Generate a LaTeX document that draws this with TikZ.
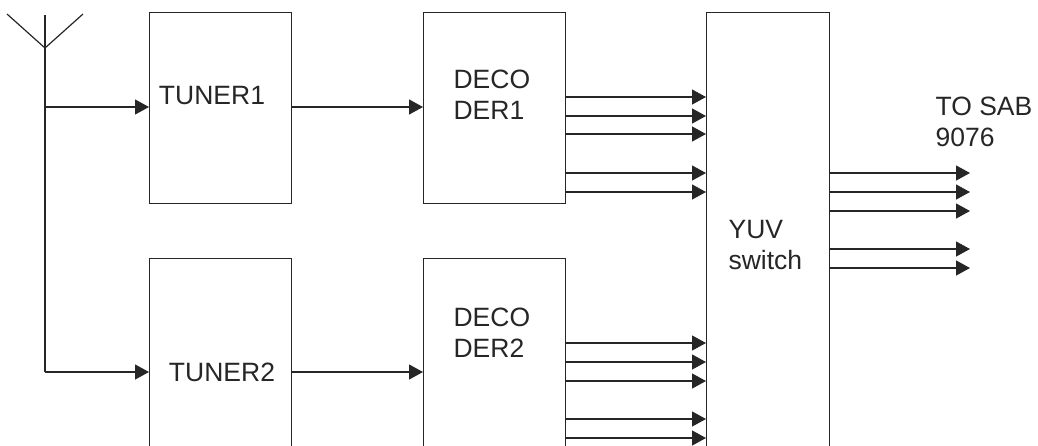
\documentclass[tikz,border=0pt]{standalone}
\usepackage{fontspec}
\setmainfont{Liberation Sans}
\usetikzlibrary{arrows.meta, positioning}

\begin{document}
\begin{tikzpicture}[x=1pt, y=-1pt,
		>={Triangle[length=14pt,width=15pt]},   %filled arrow tips
		line width=1.2pt, color=black!85,
		font=\fontsize{26.5}{31}\selectfont,
		blk/.style={draw, rectangle, anchor=north west, minimum width=#1, inner sep=0pt}]
	\useasboundingbox (0,0) rectangle (1038,445);
	\clip (0,0) rectangle (1038,445);
	% Antenne
	\coordinate (ant) at (45,48);
	\draw (7,14) -- (ant) -- (83,14);
	\draw (45,15) -- (ant) -- (45,372);
	% Bloecke
	\node[blk=142pt, minimum height=191pt] (tuner1) at (149,12) {};
	\node[blk=142pt, minimum height=220pt] (tuner2) at (149,258) {};
	\node[blk=142pt, minimum height=191pt] (deco1) at (423,12) {};
	\node[blk=142pt, minimum height=220pt] (deco2) at (423,258) {};
	\node[blk=123pt, minimum height=460pt] (yuv) at (706,12) {};
	% Beschriftung
	\node (t1) at (212,96) {TUNER1};
	\node (t2) at (222,372) {TUNER2};
	\node[align=left, anchor=west, inner sep=0pt] (d1) at (453,95) {DECO\\DER1};
	\node[align=left, anchor=west, inner sep=0pt] (d2) at (453,333) {DECO\\DER2};
	\node[align=left, anchor=west, inner sep=0pt] (y1) at (728,245) {YUV\\switch};
	\node[align=left, anchor=west, inner sep=0pt] (sab) at (935,122) {TO SAB\\9076};
	% Verbindungen
	\draw[->] (45,107) -- (tuner1.west |- 0,107);
	\draw[->] (45,372) -- (tuner2.west |- 0,372);
	\draw[->] (tuner1.east |- 0,107) -- (deco1.west |- 0,107);
	\draw[->] (tuner2.east |- 0,372) -- (deco2.west |- 0,372);
	\foreach \y in {97,116,134,173,192}
		\draw[->] (deco1.east |- 0,\y) -- (yuv.west |- 0,\y);
	\foreach \y in {343,362,381,419,438}
		\draw[->] (deco2.east |- 0,\y) -- (yuv.west |- 0,\y);
	\foreach \y in {173,192,211,249,268}
		\draw[->] (yuv.east |- 0,\y) -- (970,\y);
\end{tikzpicture}
\end{document}
